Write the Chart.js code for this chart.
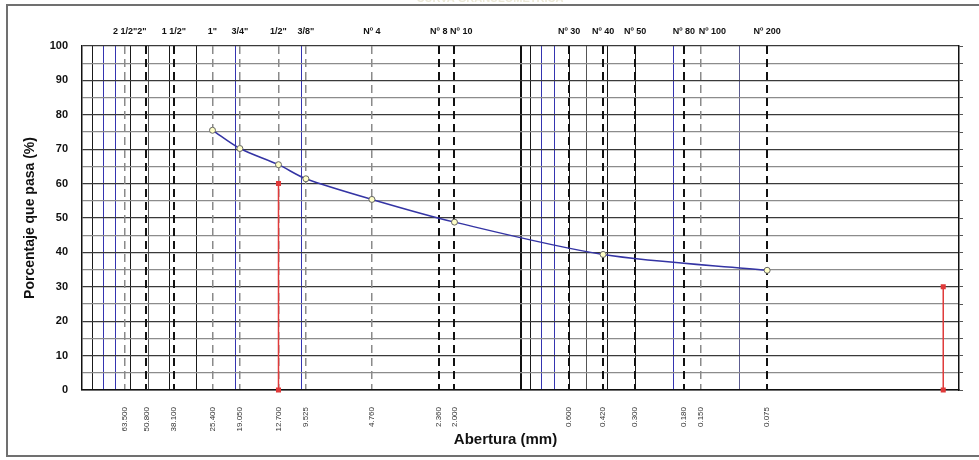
<!DOCTYPE html>
<html>
<head>
<meta charset="utf-8">
<script src="https://cdn.jsdelivr.net/npm/chart.js@4.4.0/dist/chart.umd.min.js"></script>
<style>
  html, body { margin: 0; padding: 0; background: #fff; }
  canvas { display: block; }
</style>
</head>
<body>
<canvas id="granChart" width="979" height="460"></canvas>
<script>
// sieve series (size in mm) and their names
const sieveNames = ['2 1/2"', '2"', '1 1/2"', '1"', '3/4"', '1/2"', '3/8"', 'Nº 4', 'Nº 8', 'Nº 10',
                    'Nº 30', 'Nº 40', 'Nº 50', 'Nº 80', 'Nº 100', 'Nº 200'];
const sieveSizes = [63.5, 50.8, 38.1, 25.4, 19.05, 12.7, 9.525, 4.76, 2.36, 2.0,
                    0.6, 0.42, 0.3, 0.18, 0.15, 0.075];

// sample curve
const sampleSizes = [25.4, 19.05, 12.7, 9.525, 4.76, 2.0, 0.42, 0.075];
const samplePassing = [75.5, 70.2, 65.5, 61.4, 55.4, 48.8, 39.4, 34.8];

// red marks
const limitSizes = [12.7, 0.0118];
const limitTops = [60, 30];

// log paper lines
const minorGridSizes = [90, 80, 70, 60, 50, 40, 30, 20, 10, 1,
                        0.9, 0.8, 0.7, 0.6, 0.5, 0.4, 0.3, 0.2, 0.1];

const FONT = '"Liberation Sans", Arial, sans-serif';
const darkSieves = [50.8, 38.1, 2.36, 2.0, 0.6, 0.42, 0.3, 0.18, 0.075];
const EN = '\u2002';

function minorColor(v) {
  if (v === 1) return '#111';
  if (v === 10) return '#3434b0';
  if (v === 0.1) return '#5c5c90';
  const m = Math.round(v / Math.pow(10, Math.floor(Math.log10(v) + 1e-9)));
  if (m === 8 || m === 7 || m === 2) return '#3434b0';
  if (m === 5) return '#555';
  return '#1a1a1a';
}

// top labels sit a little off their lines in the original
function topLabel(i) {
  const name = sieveNames[i];
  if (name === 'Nº 10') return EN + EN + EN + name;
  if (name === 'Nº 100') return EN + EN + EN + EN + EN + name;
  if (name === '2"') return name + EN + EN;
  return name;
}

const framePlugin = {
  id: 'frame',
  beforeDraw(chart) {
    const ctx = chart.ctx;
    ctx.save();
    ctx.fillStyle = '#fff';
    ctx.fillRect(0, 0, chart.width, chart.height);
    ctx.fillStyle = '#ebe8d6';
    ctx.font = 'bold 11px ' + FONT;
    ctx.textAlign = 'center';
    ctx.textBaseline = 'middle';
    ctx.fillText('CURVA GRANULOMÉTRICA', 490, -1);
    ctx.strokeStyle = '#707070';
    ctx.lineWidth = 2;
    ctx.strokeRect(7, 5, 976, 451);
    ctx.restore();
  }
};

const sieveTicks = axis => { axis.ticks = sieveSizes.map(v => ({ value: v })); };

const datasets = [{
  data: sampleSizes.map((x, i) => ({ x: x, y: samplePassing[i] })),
  showLine: true,
  borderColor: '#3434a4',
  borderWidth: 1.5,
  tension: 0.3,
  pointRadius: 3,
  pointBackgroundColor: '#ffffc8',
  pointBorderColor: '#666',
  pointBorderWidth: 1
}].concat(limitSizes.map((sz, i) => ({
  data: [{ x: sz, y: 0 }, { x: sz, y: limitTops[i] }],
  showLine: true,
  borderColor: '#e03a3a',
  borderWidth: 1.5,
  pointStyle: 'rect',
  pointRadius: 2.5,
  pointBackgroundColor: '#e03a3a',
  pointBorderColor: '#e03a3a',
  clip: false
})));

new Chart(document.getElementById('granChart'), {
  type: 'scatter',
  data: { datasets: datasets },
  plugins: [framePlugin],
  options: {
    responsive: false,
    animation: false,
    devicePixelRatio: 1,
    layout: { padding: 0 },
    plugins: { legend: { display: false }, tooltip: { enabled: false } },
    scales: {
      x: {
        type: 'logarithmic',
        position: 'bottom',
        min: 0.01,
        max: 100,
        reverse: true,
        afterBuildTicks: sieveTicks,
        afterFit: s => { s.height = 70; },
        ticks: {
          autoSkip: false,
          minRotation: 90,
          maxRotation: 90,
          padding: 17,
          color: '#333',
          font: { family: FONT, size: 8 },
          callback: (v, i) => sieveSizes[i].toFixed(3)
        },
        grid: {
          z: -1,
          drawTicks: false,
          color: c => (c.tick && darkSieves.includes(c.tick.value)) ? '#111' : '#8a8a8a',
          lineWidth: c => (c.tick && darkSieves.includes(c.tick.value)) ? 2 : 1.5
        },
        border: { display: true, color: '#111', width: 1.5, dash: [8, 5] },
        title: {
          display: true,
          text: 'Abertura (mm)' + EN + EN + EN + EN,
          color: '#111',
          font: { family: FONT, size: 15, weight: 'bold' },
          padding: { top: 0, bottom: 11 }
        }
      },
      xMinor: {
        type: 'logarithmic',
        position: 'bottom',
        min: 0.01,
        max: 100,
        reverse: true,
        afterBuildTicks: axis => { axis.ticks = minorGridSizes.map(v => ({ value: v })); },
        afterFit: s => { s.height = 0; },
        ticks: { display: false },
        grid: {
          z: -3,
          drawTicks: false,
          color: c => c.tick ? minorColor(c.tick.value) : '#111',
          lineWidth: c => (c.tick && c.tick.value === 1) ? 2 : 1
        },
        border: { display: false }
      },
      xTop: {
        type: 'logarithmic',
        position: 'top',
        min: 0.01,
        max: 100,
        reverse: true,
        afterBuildTicks: sieveTicks,
        afterFit: s => { s.height = 46; },
        ticks: {
          autoSkip: false,
          maxRotation: 0,
          padding: 9,
          color: '#111',
          font: { family: FONT, size: 9, weight: 'bold' },
          callback: (v, i) => topLabel(i)
        },
        grid: { drawOnChartArea: false, drawTicks: false },
        border: { display: false }
      },
      y: {
        position: 'left',
        min: 0,
        max: 100,
        afterFit: s => { s.width = 82; },
        ticks: {
          stepSize: 5,
          padding: 14,
          color: '#111',
          font: { family: FONT, size: 11, weight: 'bold' },
          callback: v => (v % 10 === 0 ? v : '')
        },
        grid: {
          z: -2,
          drawTicks: false,
          color: c => (c.tick && c.tick.value % 10 === 0) ? '#3a3a3a' : '#8c8c8c',
          lineWidth: 1.2
        },
        border: { color: '#111', width: 1.5 },
        title: {
          display: true,
          text: 'Porcentaje que pasa (%)',
          color: '#111',
          font: { family: FONT, size: 14, weight: 'bold' },
          padding: { top: 22, bottom: 0 }
        }
      },
      yRight: {
        position: 'right',
        min: 0,
        max: 100,
        afterFit: s => { s.width = 20; },
        ticks: { stepSize: 5, display: false },
        grid: { drawOnChartArea: false, drawTicks: true, tickLength: 4, tickColor: '#555' },
        border: { color: '#111', width: 1.5 }
      }
    }
  }
});
</script>
</body>
</html>
